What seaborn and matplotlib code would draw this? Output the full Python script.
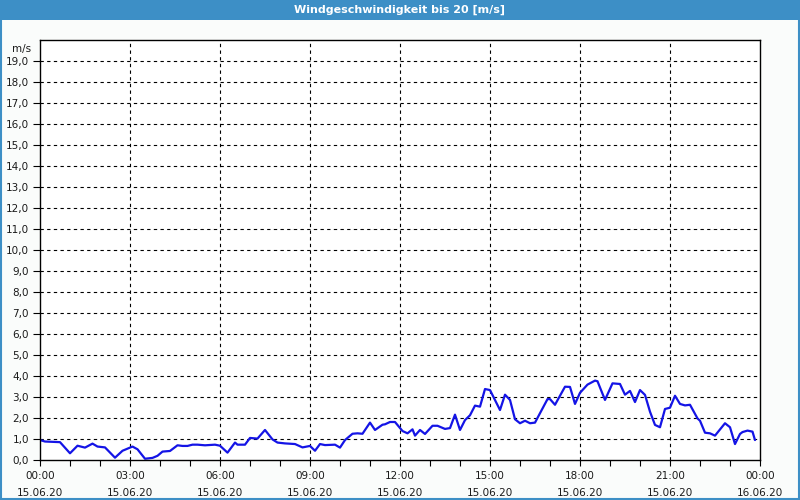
import matplotlib
matplotlib.use("Agg")
import matplotlib.pyplot as plt
from matplotlib.patches import Rectangle
from matplotlib.ticker import FixedLocator, MultipleLocator
import seaborn as sns
import pandas as pd

# minutes after 15.06.20 00:00
minutes = [0, 10, 30, 40, 60, 75, 90, 105, 115, 130, 150, 165, 185, 195, 210, 225,
           235, 245, 260, 275, 285, 295, 305, 315, 330, 350, 360, 375, 390, 395, 410,
           420, 435, 450, 465, 475, 490, 510, 525, 540, 550, 560, 570, 590, 600, 610,
           625, 635, 645, 660, 670, 685, 690, 700, 710, 725, 735, 745, 750, 760, 770,
           785, 795, 810, 820, 830, 840, 850, 860, 870, 880, 890, 900, 920, 930, 940,
           950, 960, 970, 980, 990, 1015, 1020, 1030, 1050, 1060, 1070, 1080, 1095,
           1110, 1115, 1130, 1145, 1160, 1170, 1180, 1190, 1200, 1210, 1220, 1230,
           1240, 1250, 1260, 1270, 1280, 1290, 1300, 1315, 1320, 1330, 1340, 1350,
           1370, 1380, 1390, 1400, 1405, 1415, 1425, 1430]
speed = [0.95, 0.88, 0.86, 0.85, 0.32, 0.68, 0.59, 0.78, 0.64, 0.60, 0.11, 0.44, 0.64,
         0.51, 0.06, 0.10, 0.20, 0.40, 0.43, 0.70, 0.67, 0.67, 0.73, 0.73, 0.70, 0.73,
         0.68, 0.35, 0.83, 0.73, 0.73, 1.05, 1.02, 1.43, 0.98, 0.83, 0.79, 0.76, 0.60,
         0.67, 0.44, 0.76, 0.71, 0.73, 0.59, 0.95, 1.25, 1.27, 1.25, 1.78, 1.43, 1.68,
         1.70, 1.81, 1.81, 1.38, 1.27, 1.46, 1.16, 1.43, 1.24, 1.63, 1.63, 1.48, 1.52,
         2.16, 1.43, 1.90, 2.13, 2.59, 2.54, 3.38, 3.33, 2.38, 3.11, 2.86, 1.94, 1.75,
         1.87, 1.75, 1.78, 2.90, 2.90, 2.63, 3.49, 3.48, 2.67, 3.20, 3.59, 3.78, 3.75,
         2.86, 3.65, 3.62, 3.11, 3.29, 2.76, 3.33, 3.10, 2.30, 1.67, 1.56, 2.43, 2.49,
         3.06, 2.67, 2.60, 2.63, 1.98, 1.87, 1.30, 1.27, 1.16, 1.75, 1.56, 0.76, 1.24,
         1.33, 1.40, 1.35, 0.95]

x_tick_hours = [0, 3, 6, 9, 12, 15, 18, 21, 24]
x_tick_labels = ["00:00\n15.06.20", "03:00\n15.06.20", "06:00\n15.06.20",
                 "09:00\n15.06.20", "12:00\n15.06.20", "15:00\n15.06.20",
                 "18:00\n15.06.20", "21:00\n15.06.20", "00:00\n16.06.20"]
y_ticks = list(range(0, 20))
y_tick_labels = [f"{v},0" for v in y_ticks]
title = "Windgeschwindigkeit bis 20 [m/s]"
unit = "m/s"

df = pd.DataFrame({"hour": [m / 60 for m in minutes], "speed": speed})

sns.set_theme(style="white")
plt.rcParams["font.family"] = ["DejaVu Sans"]

W, H = 800, 500
fig = plt.figure(figsize=(8, 5), dpi=100, facecolor="#fafcfb")
ax = fig.add_axes([40 / W, 1 - 460 / H, 720 / W, 420 / H])
ax.set_facecolor("white")

sns.lineplot(data=df, x="hour", y="speed", ax=ax, color="#1414e6", linewidth=1.6)

ax.set_xlim(0, 24)
ax.set_ylim(0, 20)
ax.set_xticks(x_tick_hours)
ax.set_xticklabels(x_tick_labels, fontsize=7.5, color="#1a1a1a", linespacing=1.9)
ax.xaxis.set_minor_locator(FixedLocator([h for h in range(25) if h % 3 != 0]))
ax.set_yticks(y_ticks)
ax.set_yticklabels(y_tick_labels, fontsize=7.5, color="#1a1a1a")
ax.set_xlabel("")
ax.set_ylabel("")

ax.tick_params(axis="x", which="both", direction="out", length=4, width=0.8,
               color="black", bottom=True, pad=4)
ax.tick_params(axis="y", which="major", direction="out", length=5, width=0.8,
               color="black", left=True, pad=3)

for h in x_tick_hours[1:-1]:
    ax.axvline(h, color="black", linestyle=(0, (3, 3)), linewidth=0.8, zorder=1)
for v in y_ticks[1:]:
    ax.axhline(v, color="black", linestyle=(0, (3, 3)), linewidth=0.8, zorder=1)

for s in ax.spines.values():
    s.set_visible(True)
    s.set_color("black")
    s.set_linewidth(1.0)

ax.text(-0.012, 20 - 0.2, unit, transform=ax.get_yaxis_transform(), ha="right",
        va="top", fontsize=7.5, color="#1a1a1a")

# title bar and frame
fig.add_artist(Rectangle((0, 1 - 20 / H), 1, 20 / H, transform=fig.transFigure,
                         facecolor="#3d8fc6", edgecolor="none"))
fig.add_artist(Rectangle((1 / W, 1 / H), 1 - 2 / W, 1 - 2 / H, transform=fig.transFigure,
                         facecolor="none", edgecolor="#3d8fc6", linewidth=1.5))
fig.text(0.5, 1 - 10 / H, title, ha="center", va="center", color="white",
         fontsize=8, fontweight="bold")

fig.savefig("out.png", dpi=100, facecolor=fig.get_facecolor())
